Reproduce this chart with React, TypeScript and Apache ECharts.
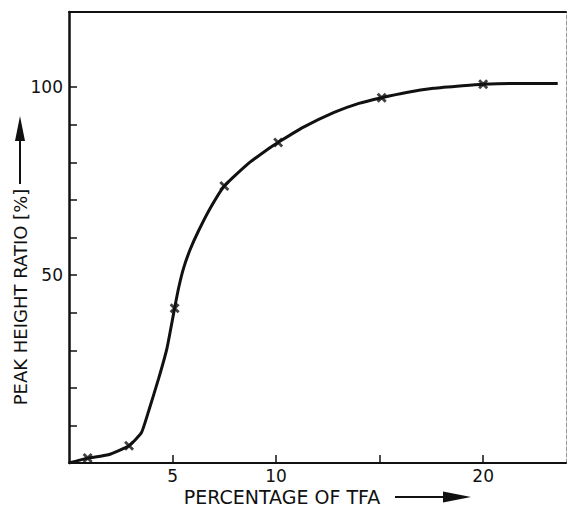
import React, { useEffect, useRef } from "react";
import * as echarts from "echarts";

// Drawn curve (percentage of TFA vs peak height ratio %)
const curveX = [0, 0.9, 1.9, 2.9, 3.5, 3.85, 4.33, 4.73, 5.1, 5.29, 5.53, 5.85, 6.24, 6.8, 7.5, 8.6, 9.7, 10.1, 11.3, 12.8, 14, 15.1, 16.3, 17.6, 19, 20, 21.5, 23.6];
const curveY = [0, 1.3, 2.2, 4.6, 8.1, 13.9, 22.5, 30.5, 41.2, 46.5, 51.8, 56.8, 61.6, 67.6, 73.7, 79.4, 83.9, 85.3, 89.3, 93.3, 95.7, 97.2, 98.6, 99.7, 100.4, 100.8, 101, 101];

// Measured points (x markers)
const pointX = [0.9, 2.9, 5.1, 7.5, 10.1, 15.1, 20];
const pointY = [1.3, 4.6, 41.2, 73.7, 85.3, 97.2, 100.8];

const xTicks = [5, 10, 15, 20];
const xLabels = [5, 10, 20];
const yTicks = [10, 20, 30, 40, 50, 60, 70, 80, 90, 100];
const yLabels = [50, 100];

const xTitle = "PERCENTAGE OF TFA";
const yTitle = "PEAK HEIGHT RATIO [%]";

const FONT = "DejaVu Sans";
const INK = "#111";

export default function App() {
  const ref = useRef<HTMLDivElement>(null);
  useEffect(() => {
    document.body.style.margin = "0";
    const chart = echarts.init(ref.current!, null, { renderer: "svg" });
    const cross = "path://M0,2 L2,0 L10,8 L8,10 Z M8,0 L10,2 L2,10 L0,8 Z";
    chart.setOption({
      animation: false,
      backgroundColor: "#fff",
      grid: { left: 69, right: 4, top: 12, bottom: 45 },
      xAxis: [
        {
          type: "value",
          min: 0,
          max: 24,
          splitLine: { show: false },
          axisLine: { show: true, onZero: false, lineStyle: { color: INK, width: 2 } },
          axisTick: { show: true, inside: true, length: 8, customValues: xTicks, lineStyle: { color: INK, width: 1.5 } },
          axisLabel: { customValues: xLabels, color: INK, fontFamily: FONT, fontSize: 17, lineHeight: 16, margin: 5 },
        },
        {
          type: "value",
          position: "top",
          min: 0,
          max: 24,
          splitLine: { show: false },
          axisLine: { show: true, onZero: false, lineStyle: { color: INK, width: 2 } },
          axisTick: { show: false },
          axisLabel: { show: false },
        },
      ],
      yAxis: [
        {
          type: "value",
          min: 0,
          max: 120,
          interval: 10,
          splitLine: { show: false },
          axisLine: { show: true, onZero: false, lineStyle: { color: INK, width: 2.5 } },
          axisTick: { show: true, inside: true, length: 8, customValues: yTicks, lineStyle: { color: INK, width: 1.5 } },
          axisLabel: { customValues: yLabels, color: INK, fontFamily: FONT, fontSize: 17, margin: 6 },
        },
        {
          type: "value",
          position: "right",
          min: 0,
          max: 120,
          splitLine: { show: false },
          axisLine: { show: true, onZero: false, lineStyle: { color: "#999", width: 1, type: "dashed" } },
          axisTick: { show: false },
          axisLabel: { show: false },
        },
      ],
      series: [
        {
          type: "line",
          data: curveX.map((x, i) => [x, curveY[i]]),
          smooth: 0.15,
          showSymbol: false,
          lineStyle: { color: INK, width: 3 },
          z: 2,
        },
        {
          type: "scatter",
          data: pointX.map((x, i) => [x, pointY[i]]),
          symbol: cross,
          symbolSize: 10,
          itemStyle: { color: INK },
          z: 3,
        },
      ],
      graphic: [
        {
          type: "text",
          x: 20,
          y: 297,
          rotation: Math.PI / 2,
          style: { text: yTitle, fontFamily: FONT, fontSize: 18, fill: INK, align: "center", verticalAlign: "middle" },
        },
        { type: "line", shape: { x1: 20, y1: 184, x2: 20, y2: 132 }, style: { stroke: INK, lineWidth: 2 } },
        { type: "polygon", shape: { points: [[20, 116], [15, 141], [25, 141]] }, style: { fill: INK } },
        {
          type: "text",
          x: 282,
          y: 497,
          style: { text: xTitle, fontFamily: FONT, fontSize: 19, lineHeight: 18, fill: INK, align: "center", verticalAlign: "middle" },
        },
        { type: "line", shape: { x1: 395, y1: 497, x2: 455, y2: 497 }, style: { stroke: INK, lineWidth: 2 } },
        { type: "polygon", shape: { points: [[471, 497], [443, 491.5], [443, 502.5]] }, style: { fill: INK } },
      ],
    });
    return () => chart.dispose();
  }, []);
  return <div ref={ref} style={{ width: 570, height: 508 }} />;
}
